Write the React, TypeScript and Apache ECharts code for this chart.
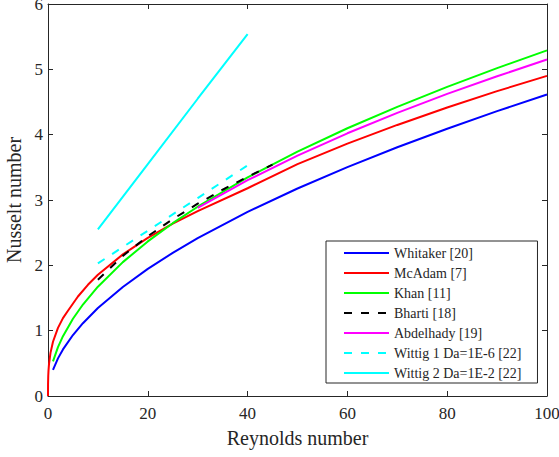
import React, { useEffect, useRef } from "react";
import * as echarts from "echarts";

const seriesNames = [
  "Whitaker [20]",
  "McAdam [7]",
  "Khan [11]",
  "Bharti [18]",
  "Abdelhady [19]",
  "Wittig 1 Da=1E-6 [22]",
  "Wittig 2 Da=1E-2 [22]",
];
const seriesColors = ["#0000ff", "#ff0000", "#00ff00", "#000000", "#ff00ff", "#00ffff", "#00ffff"];
const seriesDashed = [false, false, false, true, false, true, false];

const xTicks = [0, 20, 40, 60, 80, 100];
const yTicks = [0, 1, 2, 3, 4, 5, 6];

const whitakerRe = [1, 2, 3, 5, 7, 10, 15, 20, 25, 30, 40, 50, 60, 70, 80, 90, 100];
const whitakerNu = [0.40, 0.576, 0.713, 0.933, 1.114, 1.346, 1.669, 1.945, 2.191, 2.416, 2.818, 3.176, 3.504, 3.807, 4.091, 4.36, 4.615];

const mcadamRe = [0, 0.01, 0.05, 0.1, 0.2, 0.5, 1, 2, 3, 4, 6, 8, 10, 15, 20, 25, 30, 40, 50, 60, 70, 80, 90, 100];
const mcadamNu = [0, 0.18, 0.309, 0.388, 0.488, 0.66, 0.83, 1.043, 1.192, 1.305, 1.523, 1.702, 1.855, 2.168, 2.42, 2.639, 2.831, 3.18, 3.548, 3.862, 4.149, 4.416, 4.666, 4.9];

const khanRe = [1, 2, 3, 5, 7, 10, 15, 20, 25, 30, 40, 50, 60, 70, 80, 90, 100];
const khanNu = [0.529, 0.748, 0.916, 1.183, 1.4, 1.673, 2.049, 2.366, 2.645, 2.897, 3.346, 3.741, 4.098, 4.426, 4.731, 5.019, 5.29];

const bhartiRe = [10, 15, 20, 25, 30, 35, 40, 45];
const bhartiNu = [1.78, 2.145, 2.446, 2.707, 2.943, 3.157, 3.355, 3.541];

const abdelhadyRe = [30, 40, 50, 60, 70, 80, 90, 100];
const abdelhadyNu = [2.88, 3.303, 3.68, 4.021, 4.333, 4.624, 4.894, 5.15];

const wittig1Re = [10, 20, 30, 40];
const wittig1Nu = [2.03, 2.53, 3.03, 3.53];

const wittig2Re = [10, 20, 30, 40];
const wittig2Nu = [2.55, 3.55, 4.55, 5.54];

const allRe = [whitakerRe, mcadamRe, khanRe, bhartiRe, abdelhadyRe, wittig1Re, wittig2Re];
const allNu = [whitakerNu, mcadamNu, khanNu, bhartiNu, abdelhadyNu, wittig1Nu, wittig2Nu];

const FONT = "Times New Roman, Liberation Serif, DejaVu Serif, serif";
const AXIS_COLOR = "#262626";

export default function App() {
  const ref = useRef<HTMLDivElement>(null);

  useEffect(() => {
    if (!ref.current) return;
    const chart = echarts.init(ref.current, null, { renderer: "svg" });

    const series = seriesNames.map((name, i) => ({
      name,
      type: "line",
      xAxisIndex: 0,
      yAxisIndex: 0,
      data: allRe[i].map((re, j) => [re, allNu[i][j]]),
      showSymbol: false,
      symbol: "none",
      smooth: false,
      lineStyle: {
        color: seriesColors[i],
        width: 2,
        type: seriesDashed[i] ? [8, 9] : "solid",
      },
      itemStyle: { color: seriesColors[i] },
      z: 2 + i,
    }));

    const baseAxis = {
      axisLine: { show: true, onZero: false, lineStyle: { color: AXIS_COLOR, width: 1 } },
      axisTick: { show: true, inside: true, length: 5, lineStyle: { color: AXIS_COLOR } },
      splitLine: { show: false },
    };

    chart.setOption({
      animation: false,
      backgroundColor: "#ffffff",
      textStyle: { fontFamily: FONT },
      grid: { left: 48, top: 4, right: 12, bottom: 61, containLabel: false, outerBoundsMode: "none" },
      legend: {
        orient: "vertical",
        left: 326,
        top: 241,
        data: seriesNames,
        itemWidth: 45,
        itemHeight: 14,
        itemGap: 6,
        padding: [5, 16, 3, 17],
        backgroundColor: "#ffffff",
        borderColor: AXIS_COLOR,
        borderWidth: 1,
        borderRadius: 0,
        itemStyle: { opacity: 0 },
        textStyle: { fontFamily: FONT, fontSize: 14, color: AXIS_COLOR },
      },
      xAxis: [
        {
          ...baseAxis,
          type: "value",
          position: "bottom",
          min: 0,
          max: 100,
          interval: 20,
          name: "Reynolds number",
          nameLocation: "middle",
          nameGap: 32,
          nameTextStyle: { fontFamily: FONT, fontSize: 20, color: AXIS_COLOR },
          axisLabel: {
            show: true,
            margin: 9,
            fontFamily: FONT,
            fontSize: 17,
            color: AXIS_COLOR,
            formatter: (v: number) => (xTicks.includes(v) ? String(v) : ""),
          },
        },
        {
          ...baseAxis,
          type: "value",
          position: "top",
          min: 0,
          max: 100,
          interval: 20,
          axisLabel: { show: false },
        },
      ],
      yAxis: [
        {
          ...baseAxis,
          type: "value",
          position: "left",
          min: 0,
          max: 6,
          interval: 1,
          name: "Nusselt number",
          nameLocation: "middle",
          nameGap: 19,
          nameTextStyle: { fontFamily: FONT, fontSize: 20, color: AXIS_COLOR },
          axisLabel: {
            show: true,
            margin: 5,
            fontFamily: FONT,
            fontSize: 17,
            color: AXIS_COLOR,
            formatter: (v: number) => (yTicks.includes(v) ? String(v) : ""),
          },
        },
        {
          ...baseAxis,
          type: "value",
          position: "right",
          min: 0,
          max: 6,
          interval: 1,
          axisLabel: { show: false },
        },
      ],
      series,
    });

    return () => chart.dispose();
  }, []);

  return <div ref={ref} style={{ width: 559, height: 457, position: "absolute", left: 0, top: 0 }} />;
}
